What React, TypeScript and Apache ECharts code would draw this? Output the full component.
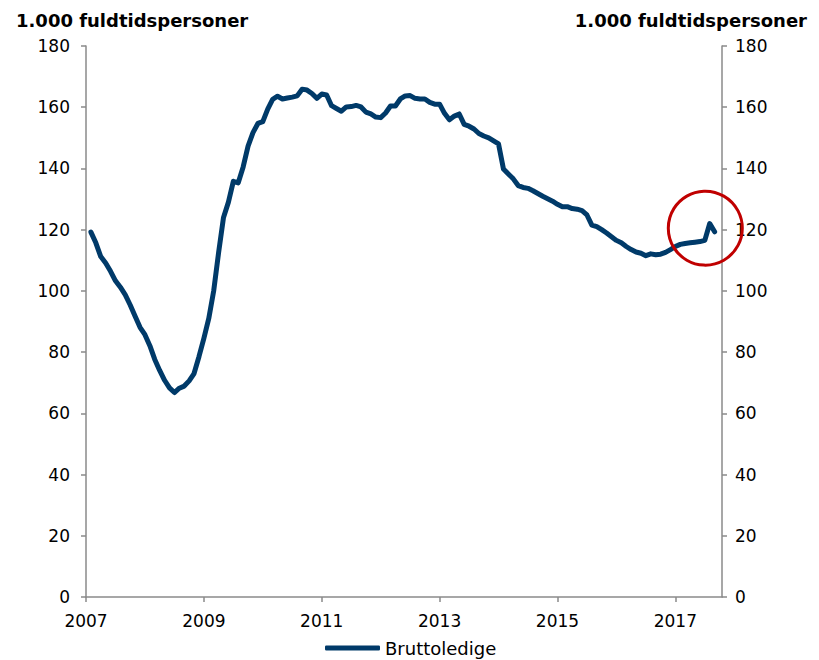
import React, { useEffect, useRef } from "react";
import * as echarts from "echarts";

// Monthly series, Jan 2007 .. Aug 2017 (1.000 fuldtidspersoner)
const START_YEAR = 2007;
const seriesName = "Bruttoledige";
const bruttoledige = [
  119.2, 115.7, 111.2, 109.1, 106.4, 103.3, 101.2, 98.7, 95.4, 91.7, 88.1, 85.7,
  82.1, 77.6, 74, 70.8, 68.3, 66.8, 68.2, 68.9, 70.6, 73, 78.5, 84.5,
  91, 100, 112.5, 124, 129, 135.8, 135.3, 140.5, 147.3, 151.7, 154.7, 155.3,
  159.4, 162.6, 163.6, 162.7, 163, 163.3, 163.7, 165.9, 165.6, 164.5, 162.9, 164.3,
  164, 160.5, 159.6, 158.7, 160.1, 160.2, 160.6, 160.1, 158.4, 157.8, 156.8, 156.6,
  158.1, 160.4, 160.4, 162.7, 163.7, 163.8, 162.9, 162.7, 162.7, 161.6, 161, 161,
  158, 155.9, 157.1, 157.8, 154.4, 153.8, 152.9, 151.4, 150.6, 150, 149, 148,
  139.8, 138.2, 136.6, 134.4, 133.8, 133.5, 132.7, 131.8, 130.9, 130.1, 129.3, 128.3,
  127.5, 127.5, 126.9, 126.7, 126.2, 124.8, 121.5, 121, 120, 118.9, 117.7, 116.5,
  115.7, 114.5, 113.5, 112.7, 112.3, 111.5, 112.1, 111.8, 112, 112.6, 113.5, 114.5,
  115.2, 115.5, 115.7, 115.9, 116.1, 116.5, 122, 119.3,
];
const xTickYears = [2007, 2009, 2011, 2013, 2015, 2017];
const axisTitle = "1.000 fuldtidspersoner";
// highlighted recent observation (month position, value)
const highlightMonth = 126.1;
const highlightValue = 120.5;

const FONT = "'DejaVu Sans', Verdana, sans-serif";
const AXIS_COLOR = "#8a8a8a";
const LINE_COLOR = "#003a69";

export default function App() {
  const ref = useRef<HTMLDivElement>(null);
  useEffect(() => {
    if (!ref.current) return;
    const chart = echarts.init(ref.current, undefined, { renderer: "svg" });
    // each monthly observation is plotted at the end of its month
    const data = bruttoledige.map((v, i) => [i + 1, v]);
    const tickMonths = xTickYears.map((y) => (y - START_YEAR) * 12);
    const yAxisCommon = {
      type: "value",
      min: 0,
      max: 180,
      interval: 20,
      splitLine: { show: false },
      axisLine: { show: true, lineStyle: { color: AXIS_COLOR, width: 1.5 } },
      axisTick: { show: true, length: 5, lineStyle: { color: AXIS_COLOR, width: 1.5 } },
    };
    const titleStyle = { fontFamily: FONT, fontWeight: "bold", fontSize: 18, color: "#000" };
    chart.setOption({
      animation: false,
      backgroundColor: "#ffffff",
      title: [
        { text: axisTitle, left: 11, top: 6, textStyle: titleStyle },
        { text: axisTitle, right: 7, top: 6, textStyle: titleStyle },
      ],
      grid: { left: 86, right: 97, top: 46, bottom: 63, outerBoundsMode: "none" },
      legend: {
        show: true,
        left: 325,
        top: 639,
        padding: 0,
        icon: "roundRect",
        itemWidth: 55,
        itemHeight: 5,
        itemGap: 5,
        textStyle: { fontFamily: FONT, fontSize: 18, color: "#000" },
        data: [seriesName],
      },
      xAxis: {
        type: "value",
        min: 0,
        max: 129.5,
        splitLine: { show: false },
        axisLine: { show: true, onZero: false, lineStyle: { color: AXIS_COLOR, width: 1.5 } },
        axisTick: {
          show: true,
          length: 5,
          customValues: tickMonths,
          lineStyle: { color: AXIS_COLOR, width: 1.5 },
        },
        axisLabel: {
          customValues: tickMonths,
          formatter: (v: number) => String(Math.round(START_YEAR + v / 12)),
          fontFamily: FONT,
          fontSize: 17,
          color: "#000",
          margin: 15,
        },
      },
      yAxis: [
        {
          ...yAxisCommon,
          position: "left",
          axisLabel: { fontFamily: FONT, fontSize: 17, color: "#000", margin: 16 },
        },
        {
          ...yAxisCommon,
          position: "right",
          axisLabel: { fontFamily: FONT, fontSize: 17, color: "#000", margin: 13 },
        },
      ],
      series: [
        {
          name: seriesName,
          type: "line",
          data,
          showSymbol: false,
          smooth: false,
          color: LINE_COLOR,
          lineStyle: { width: 5, color: LINE_COLOR, cap: "round", join: "round" },
          markPoint: {
            silent: true,
            symbol: "circle",
            symbolSize: 74,
            label: { show: false },
            itemStyle: { color: "rgba(0,0,0,0)", borderColor: "#c00000", borderWidth: 3 },
            data: [{ coord: [highlightMonth, highlightValue] }],
          },
        },
      ],
    });
    return () => chart.dispose();
  }, []);
  return (
    <div
      ref={ref}
      style={{ position: "fixed", left: 0, top: 0, width: 819, height: 660 }}
    />
  );
}
